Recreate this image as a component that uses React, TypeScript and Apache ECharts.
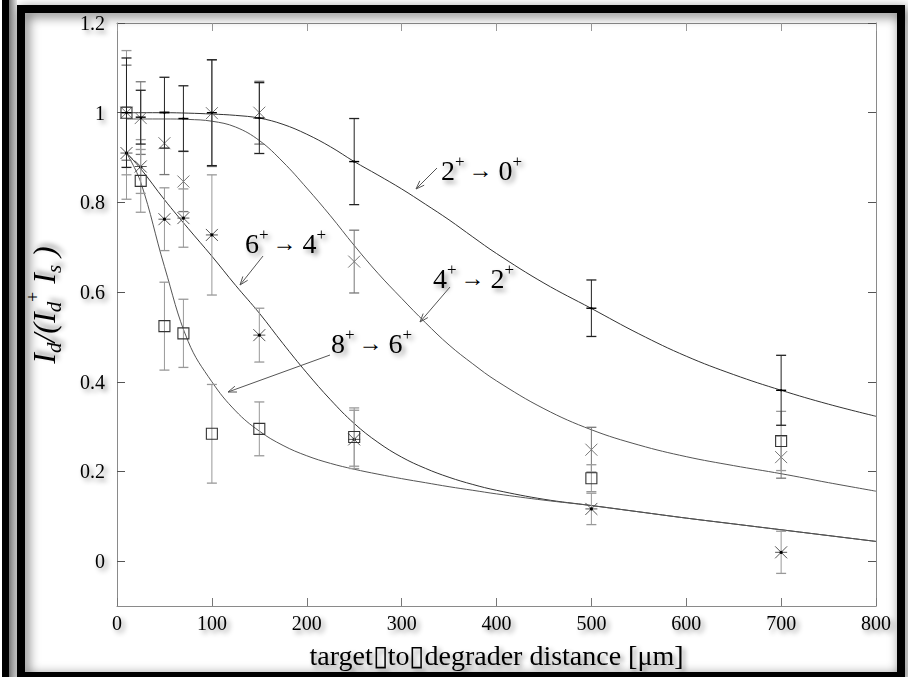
import React, { useEffect, useRef } from "react";
import * as echarts from "echarts";

// ---- data ----
const distances = [10, 25, 50, 70, 100, 150, 250, 500, 700];

const ratio20 = [1.0, 0.99, 1.0, 0.987, 1.0, 0.988, 0.891, 0.564, 0.381];
const err20 = [0.122, 0.06, 0.079, 0.073, 0.118, 0.079, 0.096, 0.063, 0.078];
const ratio42 = [1.0, 0.988, 0.932, 0.8465, 0.999, 1.0, 0.668, 0.2485, 0.232];
const err42 = [0.106, 0.081, 0.07, 0.067, 0.119, 0.07, 0.07, 0.05, 0.047];
const ratio64 = [0.91, 0.88, 0.7625, 0.765, 0.7274, 0.504, 0.2715, 0.1165, 0.0197];
const err64 = [0.103, 0.06, 0.07, 0.065, 0.134, 0.06, 0.065, 0.035, 0.047];
const ratio86 = [1.0, 0.848, 0.524, 0.508, 0.284, 0.295, 0.2767, 0.185, 0.268];
const err86 = [0.1385, 0.07, 0.098, 0.076, 0.11, 0.06, 0.065, 0.03, 0.066];

const fitX = [10, 25, 50, 75, 100, 125, 150, 175, 200, 225, 250, 275, 300, 325, 350, 375, 400, 450, 500, 550, 600, 650, 700, 750, 800];
const fit20 = [1.0, 1.0, 1.0, 0.999, 0.997, 0.994, 0.988, 0.974, 0.952, 0.924, 0.891, 0.861, 0.83, 0.796, 0.761, 0.723, 0.686, 0.62, 0.5635, 0.507, 0.457, 0.416, 0.381, 0.35, 0.323];
const fit42 = [0.986, 0.986, 0.986, 0.985, 0.981, 0.968, 0.938, 0.89, 0.832, 0.77, 0.704, 0.642, 0.586, 0.532, 0.482, 0.44, 0.402, 0.34, 0.293, 0.259, 0.233, 0.213, 0.195, 0.175, 0.156];
const fit64 = [0.91, 0.875, 0.806, 0.742, 0.68, 0.615, 0.553, 0.485, 0.42, 0.36, 0.307, 0.265, 0.232, 0.207, 0.187, 0.171, 0.158, 0.138, 0.124, 0.11, 0.096, 0.083, 0.07, 0.057, 0.044];
const fit86 = [0.91, 0.845, 0.657, 0.49, 0.4, 0.335, 0.29, 0.258, 0.235, 0.218, 0.205, 0.194, 0.184, 0.175, 0.166, 0.158, 0.15, 0.136, 0.124, 0.11, 0.096, 0.083, 0.07, 0.057, 0.044];

const yTicks = [0, 0.2, 0.4, 0.6, 0.8, 1, 1.2];
const xTitle = "target\u25AFto\u25AFdegrader distance [\u03BCm]";

const SERIF = "'Liberation Serif', 'Times New Roman', serif";
const textShadow = {
  textShadowColor: "rgba(0,0,0,0.45)",
  textShadowBlur: 5,
  textShadowOffsetX: 3,
  textShadowOffsetY: 3,
};

type Kind = "plus" | "cross" | "star" | "square";

function makeRender(kind: Kind, barColor: string, markColor: string) {
  return (params: any, api: any) => {
    const x = api.value(0);
    const y = api.value(1);
    const e = api.value(2);
    const c = api.coord([x, y]);
    const t = api.coord([x, y + e]);
    const b = api.coord([x, y - e]);
    const cw = 5;
    const bar = { stroke: barColor, lineWidth: 1 };
    const cap = { stroke: barColor, lineWidth: 1.3 };
    const children: any[] = [
      { type: "line", shape: { x1: c[0], y1: t[1], x2: c[0], y2: b[1] }, style: bar },
      { type: "line", shape: { x1: c[0] - cw, y1: t[1], x2: c[0] + cw, y2: t[1] }, style: cap },
      { type: "line", shape: { x1: c[0] - cw, y1: b[1], x2: c[0] + cw, y2: b[1] }, style: cap },
    ];
    const ms = { stroke: markColor, lineWidth: 1, fill: "none" };
    const s = 6;
    if (kind === "plus") {
      children.push({ type: "line", shape: { x1: c[0] - 5, y1: c[1], x2: c[0] + 5, y2: c[1] }, style: { ...ms, lineWidth: 1.4 } });
      children.push({ type: "circle", shape: { cx: c[0], cy: c[1], r: 1.2 }, style: { fill: markColor } });
    } else if (kind === "cross") {
      children.push({ type: "line", shape: { x1: c[0] - s, y1: c[1] - s, x2: c[0] + s, y2: c[1] + s }, style: ms });
      children.push({ type: "line", shape: { x1: c[0] - s, y1: c[1] + s, x2: c[0] + s, y2: c[1] - s }, style: ms });
    } else if (kind === "star") {
      children.push({ type: "line", shape: { x1: c[0] - s, y1: c[1] - s, x2: c[0] + s, y2: c[1] + s }, style: ms });
      children.push({ type: "line", shape: { x1: c[0] - s, y1: c[1] + s, x2: c[0] + s, y2: c[1] - s }, style: ms });
      children.push({ type: "line", shape: { x1: c[0] - s, y1: c[1], x2: c[0] + s, y2: c[1] }, style: ms });
      children.push({ type: "circle", shape: { cx: c[0], cy: c[1], r: 1.6 }, style: { fill: "#000" } });
    } else {
      children.push({ type: "rect", shape: { x: c[0] - 5.5, y: c[1] - 5.5, width: 11, height: 11 }, style: { ...ms, lineWidth: 1.1 } });
    }
    return { type: "group", children };
  };
}

function pts(ys: number[], es: number[]) {
  return distances.map((d, i) => [d, ys[i], es[i]]);
}
function curve(ys: number[]) {
  return fitX.map((d, i) => [d, ys[i]]);
}

function arrow(x1: number, y1: number, x2: number, y2: number) {
  const ang = Math.atan2(y2 - y1, x2 - x1);
  const L = 9;
  const a1 = ang + Math.PI - 0.35;
  const a2 = ang + Math.PI + 0.35;
  const st = { stroke: "#555", lineWidth: 1, fill: "none" };
  return [
    { type: "line", shape: { x1, y1, x2, y2 }, style: st, z: 20 },
    {
      type: "polyline",
      shape: { points: [[x2 + L * Math.cos(a1), y2 + L * Math.sin(a1)], [x2, y2], [x2 + L * Math.cos(a2), y2 + L * Math.sin(a2)]] },
      style: st,
      z: 20,
    },
  ];
}

const annRich = {
  n: { fontFamily: SERIF, fontSize: 28, color: "#000", lineHeight: 34, ...textShadow },
  p: { fontFamily: SERIF, fontSize: 17, color: "#800040", lineHeight: 34, verticalAlign: "top", ...textShadow },
  a: { fontFamily: SERIF, fontSize: 24, color: "#666", lineHeight: 34, padding: [0, 6, 0, 4] },
};

function annot(x: number, y: number, from: string, to: string) {
  return {
    type: "text",
    x,
    y,
    z: 20,
    style: {
      text: `{n|${from}}{p|+}{a|\u2192}{n|${to}}{p|+}`,
      rich: annRich,
      verticalAlign: "middle",
      align: "left",
    },
  };
}

export default function App() {
  const ref = useRef<HTMLDivElement>(null);
  useEffect(() => {
    const chart = echarts.init(ref.current!, null, { renderer: "svg" });
    const axisLineStyle = { color: "#8a8a8a", width: 1 };
    const option: any = {
      animation: false,
      backgroundColor: "#fff",
      grid: { left: 117, right: 32, top: 23, bottom: 71, containLabel: false, outerBoundsMode: "none" },
      xAxis: [
        {
          type: "value",
          min: 0,
          max: 800,
          interval: 100,
          position: "bottom",
          axisLine: { show: true, onZero: false, lineStyle: axisLineStyle },
          axisTick: { show: true, inside: true, length: 8, lineStyle: { color: "#777" } },
          splitLine: { show: false },
          axisLabel: { fontFamily: SERIF, fontSize: 20, color: "#000", margin: 7, ...textShadow },
          name: xTitle,
          nameLocation: "middle",
          nameGap: 35,
          nameTextStyle: { fontFamily: SERIF, fontSize: 28, color: "#000", ...textShadow },
        },
        {
          type: "value",
          min: 0,
          max: 800,
          interval: 100,
          position: "top",
          axisLine: { show: true, onZero: false, lineStyle: axisLineStyle },
          axisTick: { show: true, inside: true, length: 8, lineStyle: { color: "#999" } },
          splitLine: { show: false },
          axisLabel: { show: false },
        },
      ],
      yAxis: [
        {
          type: "value",
          min: -0.1,
          max: 1.2,
          position: "left",
          axisLine: { show: true, onZero: false, lineStyle: axisLineStyle },
          axisTick: { show: true, inside: true, length: 8, customValues: yTicks, lineStyle: { color: "#555" } },
          splitLine: { show: false },
          axisLabel: {
            customValues: yTicks,
            formatter: (v: number) => String(Math.round(v * 10) / 10),
            fontFamily: SERIF,
            fontSize: 20,
            color: "#000",
            margin: 12,
            ...textShadow,
          },
        },
        {
          type: "value",
          min: -0.1,
          max: 1.2,
          position: "right",
          axisLine: { show: true, onZero: false, lineStyle: axisLineStyle },
          axisTick: { show: true, inside: true, length: 8, customValues: yTicks, lineStyle: { color: "#555" } },
          splitLine: { show: false },
          axisLabel: { show: false },
        },
      ],
      series: [
        ...[fit20, fit42, fit64, fit86].map((f, i) => ({
          type: "line",
          name: "fit" + i,
          data: curve(f),
          smooth: 0.4,
          showSymbol: false,
          symbol: "none",
          lineStyle: { color: i % 2 === 0 ? "#333" : "#555", width: 1 },
          z: 3,
        })),
        { type: "custom", name: "2+ → 0+", data: pts(ratio20, err20), renderItem: makeRender("plus", "#222", "#000"), encode: { x: 0, y: 1 }, z: 5 },
        { type: "custom", name: "4+ → 2+", data: pts(ratio42, err42), renderItem: makeRender("cross", "#777", "#777"), encode: { x: 0, y: 1 }, z: 4 },
        { type: "custom", name: "6+ → 4+", data: pts(ratio64, err64), renderItem: makeRender("star", "#999", "#555"), encode: { x: 0, y: 1 }, z: 4 },
        { type: "custom", name: "8+ → 6+", data: pts(ratio86, err86), renderItem: makeRender("square", "#999", "#333"), encode: { x: 0, y: 1 }, z: 4 },
      ],
      graphic: [
        { type: "rect", shape: { x: 2, y: 0, width: 7, height: 677 }, style: { fill: "#000" }, z: 30 },
        {
          type: "rect",
          shape: { x: 9, y: 0, width: 8, height: 677 },
          style: {
            fill: new echarts.graphic.LinearGradient(0, 0, 1, 0, [
              { offset: 0, color: "#777" },
              { offset: 1, color: "#e6e6e6" },
            ]),
          },
          z: 30,
        },
        {
          type: "rect",
          shape: { x: 21, y: 9, width: 880, height: 667 },
          style: {
            fill: "none",
            stroke: "#000",
            lineWidth: 8,
            shadowBlur: 12,
            shadowColor: "rgba(0,0,0,0.6)",
            shadowOffsetX: 3,
            shadowOffsetY: 3,
          },
          z: 30,
        },
        {
          type: "text",
          x: 44,
          y: 305,
          rotation: Math.PI / 2,
          z: 20,
          style: {
            text: "{i|I}{s|d}{i|/(I}{s|d}{p|+}{i| I}{s|s}{i| )}",
            align: "center",
            verticalAlign: "middle",
            rich: {
              i: { fontFamily: SERIF, fontStyle: "italic", fontSize: 32, color: "#000", lineHeight: 40, ...textShadow },
              s: { fontFamily: SERIF, fontStyle: "italic", fontSize: 21, color: "#000", lineHeight: 40, verticalAlign: "bottom", ...textShadow },
              p: { fontFamily: SERIF, fontSize: 18, color: "#555", lineHeight: 40, verticalAlign: "top" },
            },
          },
        },
        annot(441, 170, "2", "0"),
        annot(245, 243, "6", "4"),
        annot(433, 278, "4", "2"),
        annot(331, 343, "8", "6"),
        ...arrow(437, 168, 416, 189),
        ...arrow(263, 256, 240, 285),
        ...arrow(450, 287, 420, 322),
        ...arrow(330, 355, 228, 392),
      ],
    };
    chart.setOption(option);
    return () => chart.dispose();
  }, []);
  return (
    <div
      ref={ref}
      style={{ position: "fixed", left: 0, top: 0, width: 908, height: 677, background: "#fff" }}
    />
  );
}
